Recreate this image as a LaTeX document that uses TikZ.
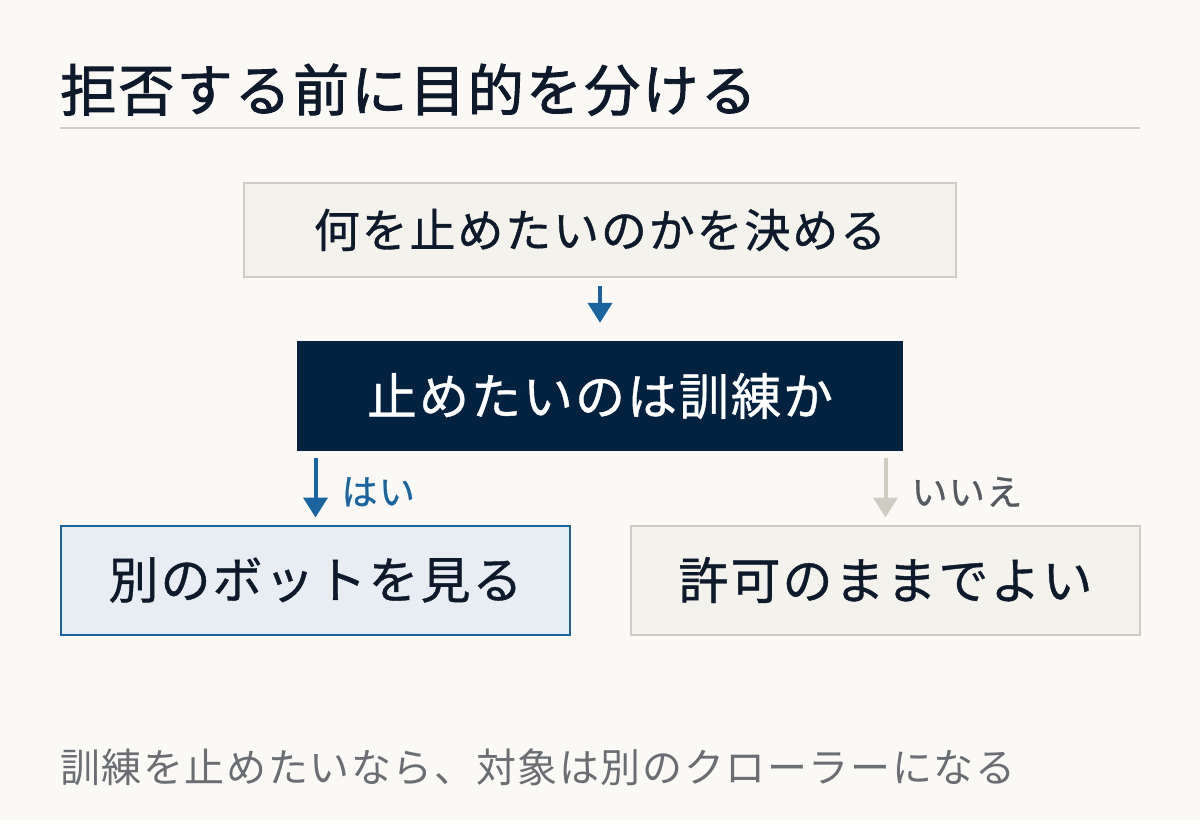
\documentclass[tikz,border=0pt]{standalone}
\usepackage{fontspec}
\setmainfont{Noto Sans CJK JP}[LetterSpace=4]
\newfontface\midface{Noto Sans CJK JP}[LetterSpace=4, FakeBold=0.8]
\newfontface\headface{Noto Sans CJK JP}[LetterSpace=4, FakeBold=1.6]
\usetikzlibrary{arrows.meta}

\definecolor{paper}{HTML}{FAF9F6}
\definecolor{ink}{HTML}{0E1A2B}
\definecolor{navy}{HTML}{03223F}
\definecolor{flowblue}{HTML}{1A64A0}
\definecolor{stone}{HTML}{CFCDC3}
\definecolor{stonefill}{HTML}{F3F2EC}
\definecolor{bluefill}{HTML}{E7EDF3}
\definecolor{labelgray}{HTML}{555A60}
\definecolor{notegray}{HTML}{6A6E73}

\tikzset{
  plainbox/.style={draw=stone, line width=2pt, fill=stonefill, text=ink, inner sep=0pt},
  questionbox/.style={fill=navy, text=white, inner sep=0pt},
  yesbox/.style={draw=flowblue, line width=2pt, fill=bluefill, text=ink, inner sep=0pt},
  yesarrow/.style={draw=flowblue, line width=4pt, -{Triangle[width=24pt,length=20pt]}},
  noarrow/.style={draw=stone, line width=4pt, -{Triangle[width=24pt,length=20pt]}},
  branchlabel/.style={inner sep=0pt, anchor=west, font=\midface\fontsize{36}{42}\selectfont}
}

\begin{document}
\begin{tikzpicture}[x=1pt, y=-1pt]
% Page and heading
\fill[paper] (0,0) rectangle (1200,820);
\useasboundingbox (0,0) rectangle (1200,820);
\node[anchor=base west, inner sep=0pt, text=ink, font=\headface\fontsize{56}{64}\selectfont] (title) at (60,111) {拒否する前に目的を分ける};
\draw[stone, line width=2pt] (60,128) -- (1140,128);

% Boxes
\node[plainbox, minimum width=712pt, minimum height=94pt, font=\midface\fontsize{46}{52}\selectfont] (ask) at (600,230) {何を止めたいのかを決める};
\node[questionbox, minimum width=606pt, minimum height=110pt, font=\midface\fontsize{50}{56}\selectfont] (train) at (600,396) {止めたいのは訓練か};
\node[yesbox, minimum width=509pt, minimum height=109pt, font=\midface\fontsize{50}{56}\selectfont] (yes) at (315.5,580) {別のボットを見る};
\node[plainbox, minimum width=509pt, minimum height=109pt, font=\midface\fontsize{50}{56}\selectfont] (no) at (885.5,580) {許可のままでよい};

% Arrows
\draw[yesarrow] ([yshift=-8pt]ask.south) -- ([yshift=18pt]train.north);
\draw[yesarrow] ([yshift=-7pt]train.south -| yes.north) -- ([yshift=7pt]yes.north)
  node[branchlabel, text=flowblue, midway, xshift=24pt, yshift=-4pt] {はい};
\draw[noarrow] ([yshift=-7pt]train.south -| no.north) -- ([yshift=7pt]no.north)
  node[branchlabel, text=labelgray, midway, xshift=24pt, yshift=-4pt] {いいえ};

% Note
\node[anchor=base west, inner sep=0pt, text=notegray, font=\fontsize{40}{46}\selectfont] (note) at (60,782) {訓練を止めたいなら、対象は別のクローラーになる};
\end{tikzpicture}
\end{document}
